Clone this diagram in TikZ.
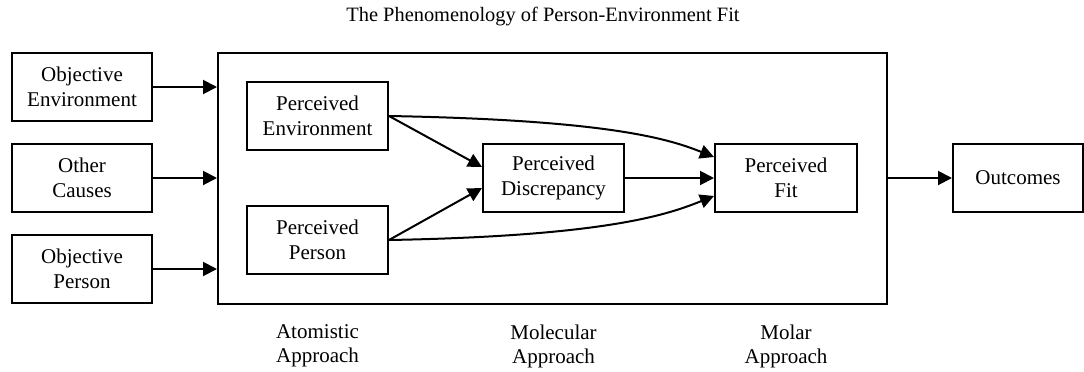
\documentclass[tikz,border=0pt]{standalone}
\usepackage{fontspec}
\setmainfont{Liberation Serif}
\usetikzlibrary{arrows.meta}

\begin{document}
\begin{tikzpicture}[
    x=0.5pt, y=-0.5pt,
    -{Triangle[length=7pt,width=7pt]}, line width=1pt,
    font=\fontsize{10.5}{12.5}\selectfont,
    box/.style={rectangle, draw, -, align=center, minimum width=70.5pt, minimum height=34pt, inner sep=2pt},
    approach/.style={align=center, font=\fontsize{10.5}{12}\selectfont}
  ]
  \useasboundingbox (0,0) rectangle (1084,371);
  \node[font=\fontsize{10.2}{12}\selectfont] (title) at (543,17) {The Phenomenology of Person-Environment Fit};

  \node[box, minimum width=70pt] (objenv) at (82,87) {Objective\\Environment};
  \node[box, minimum width=70pt, below of=objenv, node distance=45.5pt] (other) {Other\\Causes};
  \node[box, minimum width=70pt, below of=other, node distance=45.5pt] (objper) {Objective\\Person};

  \node[draw, -, minimum width=334.5pt, minimum height=125.5pt, inner sep=0pt] (frame) at (552.5,178.5) {};

  \node[box] (penv) at (317.5,116) {Perceived\\Environment};
  \node[box, below of=penv, node distance=62pt] (pper) {Perceived\\Person};
  \node[box] (disc) at (553.5,178) {Perceived\\Discrepancy};
  \node[box, right of=disc, node distance=116.25pt, minimum width=71pt] (fit) {Perceived\\Fit};
  \node[box, right of=fit, node distance=116pt, minimum width=65pt] (outcomes) {Outcomes};

  \node[approach, below of=pper, node distance=53pt] (atomistic) {Atomistic\\Approach};
  \node[approach, below of=disc, node distance=84pt] (molecular) {Molecular\\Approach};
  \node[approach, below of=fit, node distance=84pt] (molar) {Molar\\Approach};

  \draw (objenv) -- (objenv -| frame.west);
  \draw (other) -- (other -| frame.west);
  \draw (objper) -- (objper -| frame.west);

  \draw (penv.east) -- ([yshift=5.5pt]disc.west);
  \draw (pper.east) -- ([yshift=-5pt]disc.west);
  \draw (disc) -- (fit);
  \draw (penv.east) .. controls +(220,4) and +(-45,-18) .. ([yshift=10.5pt]fit.west);
  \draw (pper.east) .. controls +(220,-4) and +(-45,18) .. ([yshift=-9pt]fit.west);

  \draw (frame.east |- outcomes) -- (outcomes);
\end{tikzpicture}
\end{document}
